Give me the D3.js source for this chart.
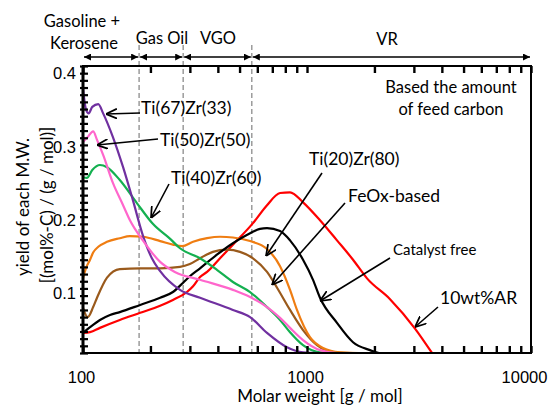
<!DOCTYPE html>
<meta charset="utf-8">
<style>
  body { margin: 0; background: #fff; }
  svg { font-family: Lato, "Open Sans", sans-serif; }
</style>
<body>
<svg id="chart"></svg>
<script src="https://cdn.jsdelivr.net/npm/d3@7"></script>
<script>

// [molar weight (g/mol), yield]
var ar10 = [[100,0.028],[107.5,0.029],[119,0.035],[146,0.046],[180,0.056],[221,0.066],[252,0.074],[291,0.085],[310,0.093],[333,0.106],[358,0.113],[409,0.132],[467,0.151],[574,0.181],[663,0.206],[758,0.223],[840,0.224],[960,0.210],[1143,0.185],[1361,0.157],[1605,0.130],[1853,0.104],[2348,0.075],[3035,0.034],[3614,0]];
var catFree = [[100,0.028],[107.5,0.036],[119,0.046],[132,0.053],[146,0.057],[180,0.067],[221,0.077],[252,0.085],[280,0.098],[300,0.107],[333,0.118],[396,0.137],[467,0.153],[557,0.167],[617,0.173],[663,0.174],[758,0.170],[840,0.157],[960,0.130],[1064,0.102],[1143,0.077],[1361,0.042],[1605,0.015],[1911,0.004],[2100,0],[3000,0]];
var feox = [[100,0.063],[105,0.050],[111,0.064],[115.5,0.077],[128,0.105],[146,0.117],[180,0.118],[221,0.118],[271,0.120],[300,0.124],[333,0.132],[380,0.141],[439,0.144],[502,0.141],[574,0.132],[663,0.113],[735,0.091],[840,0.060],[960,0.032],[1108,0.011],[1330,0.001],[1600,0],[3614,0]];
var tiZr2080 = [[100,0.104],[103,0.118],[107.5,0.130],[111,0.140],[117,0.148],[128,0.155],[146,0.160],[162,0.163],[185,0.162],[221,0.156],[252,0.151],[277,0.149],[310,0.155],[358,0.160],[409,0.162],[467,0.161],[557,0.156],[663,0.145],[758,0.121],[840,0.088],[902,0.060],[1031,0.022],[1179,0.007],[1404,0.001],[1700,0],[3614,0]];
var tiZr4060 = [[100,0.245],[104,0.244],[110,0.255],[119,0.262],[128,0.259],[146,0.241],[174,0.209],[205,0.180],[245,0.159],[271,0.146],[333,0.132],[396,0.116],[467,0.099],[557,0.085],[663,0.064],[758,0.046],[840,0.029],[960,0.011],[1143,0.001],[1404,0]];
var tiZr5050 = [[100,0.294],[105,0.301],[111,0.309],[115.5,0.297],[123,0.276],[136,0.237],[151,0.206],[162,0.185],[185,0.157],[221,0.127],[257,0.113],[333,0.102],[467,0.088],[557,0.078],[663,0.064],[758,0.049],[840,0.035],[960,0.018],[1143,0.004],[1361,0],[2000,0]];
var tiZr6733 = [[100,0.369],[103,0.340],[106,0.334],[110,0.343],[117,0.347],[123,0.334],[136,0.301],[151,0.259],[167,0.213],[185,0.164],[203,0.132],[221,0.114],[271,0.088],[333,0.077],[467,0.060],[557,0.050],[663,0.028],[814,0.008],[960,0.001],[1143,0]];

var bounds = [100, 178, 280, 567, 10000];
var xTicks = [100,200,300,400,500,600,700,800,900,1000,2000,3000,4000,5000,6000,7000,8000,9000,10000];
var xLabels = [100, 1000, 10000];
var yTicks = d3.range(0, 41).map(function(i) { return i / 100; });
var yLabels = [0.1, 0.2, 0.3, 0.4];

var series = [
  {name: "10wt%AR", data: ar10, color: "#ff0000"},
  {name: "FeOx-based", data: feox, color: "#9a5a1c"},
  {name: "Ti(20)Zr(80)", data: tiZr2080, color: "#ef7d12"},
  {name: "Catalyst free", data: catFree, color: "#000000"},
  {name: "Ti(40)Zr(60)", data: tiZr4060, color: "#14b050"},
  {name: "Ti(67)Zr(33)", data: tiZr6733, color: "#7030a0"},
  {name: "Ti(50)Zr(50)", data: tiZr5050, color: "#ff66cc"}
];

var plot = {left: 83, right: 531, top: 66, bottom: 353};

var svg = d3.select("#chart")
    .attr("width", 551)
    .attr("height", 406);

var defs = svg.append("defs");
defs.append("marker")
    .attr("id", "open")
    .attr("viewBox", "0 0 10 10")
    .attr("refX", 10).attr("refY", 5)
    .attr("markerUnits", "userSpaceOnUse")
    .attr("markerWidth", 11).attr("markerHeight", 11)
    .attr("orient", "auto")
  .append("path")
    .attr("d", "M0,0.5 L10,5 L0,9.5")
    .attr("fill", "none")
    .attr("stroke", "#000")
    .attr("stroke-width", 1.6);
defs.append("marker")
    .attr("id", "solid")
    .attr("viewBox", "0 0 10 10")
    .attr("refX", 10).attr("refY", 5)
    .attr("markerUnits", "userSpaceOnUse")
    .attr("markerWidth", 7).attr("markerHeight", 7)
    .attr("orient", "auto-start-reverse")
  .append("path")
    .attr("d", "M0,0 L10,5 L0,10 Z")
    .attr("fill", "#000");

var x = d3.scaleLog().domain([100, 10000]).range([plot.left, plot.right]);
var y = d3.scaleLinear().domain([0, 0.4]).range([plot.bottom, plot.top]);
// tick labels sit a little below their ticks in the original
var yLab = d3.scaleLinear().domain([0.1, 0.4]).range([293, 73]);

// region boundaries
svg.selectAll(".bound")
    .data(bounds.slice(1, 4))
  .enter().append("line")
    .attr("class", "bound")
    .attr("x1", function(d) { return x(d); })
    .attr("x2", function(d) { return x(d); })
    .attr("y1", 45).attr("y2", plot.bottom)
    .attr("stroke", "#8c8c8c")
    .attr("stroke-width", 1.3)
    .attr("stroke-dasharray", "5,3");

// region arrows
svg.selectAll(".span")
    .data(d3.pairs(bounds))
  .enter().append("line")
    .attr("class", "span")
    .attr("x1", function(d) { return x(d[0]) + 1; })
    .attr("x2", function(d) { return x(d[1]) - 1; })
    .attr("y1", 57).attr("y2", 57)
    .attr("stroke", "#000")
    .attr("stroke-width", 1.3)
    .attr("marker-start", "url(#solid)")
    .attr("marker-end", "url(#solid)");

var heads = [
  {t: "Gasoline +", x: 82, y: 27},
  {t: "Kerosene", x: 84, y: 49},
  {t: "Gas Oil", x: 162, y: 44},
  {t: "VGO", x: 218, y: 44},
  {t: "VR", x: 387, y: 45}
];
svg.selectAll(".head")
    .data(heads)
  .enter().append("text")
    .attr("class", "head")
    .attr("x", function(d) { return d.x; })
    .attr("y", function(d) { return d.y; })
    .attr("text-anchor", "middle")
    .style("font-size", "16.5px")
    .text(function(d) { return d.t; });

// curves
var curve = d3.line()
    .x(function(d) { return x(d[0]); })
    .y(function(d) { return y(d[1]); })
    .curve(d3.curveMonotoneX);

svg.selectAll(".curve")
    .data(series)
  .enter().append("path")
    .attr("class", "curve")
    .attr("d", function(d) { return curve(d.data); })
    .attr("fill", "none")
    .attr("stroke", function(d) { return d.color; })
    .attr("stroke-width", 2.2)
    .attr("stroke-linejoin", "round");

// frame
svg.append("rect")
    .attr("x", plot.left).attr("y", plot.top)
    .attr("width", plot.right - plot.left).attr("height", plot.bottom - plot.top)
    .attr("fill", "none")
    .attr("stroke", "#000")
    .attr("stroke-width", 2);
svg.append("line")
    .attr("x1", plot.left).attr("x2", plot.left)
    .attr("y1", plot.top).attr("y2", plot.bottom)
    .attr("stroke", "#000").attr("stroke-width", 3);

// axes
var gx = svg.append("g")
    .attr("transform", "translate(0," + plot.bottom + ")")
    .call(d3.axisBottom(x).tickValues(xTicks).tickSize(-7)
      .tickFormat(function(d) { return xLabels.indexOf(d) >= 0 ? d : ""; }));
gx.select(".domain").remove();
gx.selectAll(".tick line").style("stroke", "#000").style("stroke-width", "2.4px");
gx.selectAll(".tick text")
    .attr("y", 30).attr("dy", null)
    .attr("dx", function(d) { return d === 10000 ? -7 : -2; })
    .style("font-size", "16.5px");

var gxTop = svg.append("g")
    .attr("transform", "translate(0," + plot.top + ")")
    .call(d3.axisTop(x).tickValues(xTicks).tickSize(-7).tickFormat(""));
gxTop.select(".domain").remove();
gxTop.selectAll(".tick line").style("stroke", "#000").style("stroke-width", "2.4px");

function isLabel(d) {
  return yLabels.some(function(v) { return Math.abs(v - d) < 1e-9; });
}
var gy = svg.append("g")
    .attr("transform", "translate(" + plot.left + ",0)")
    .call(d3.axisLeft(y).tickValues(yTicks).tickSize(3)
      .tickFormat(function(d) { return isLabel(d) ? d3.format(".1f")(d) : ""; }));
gy.select(".domain").remove();
gy.selectAll(".tick line")
    .attr("x2", 5).attr("x1", -3)
    .style("stroke", "#000").style("stroke-width", "2.2px");
gy.selectAll(".tick text")
    .attr("x", -7)
    .attr("dy", "0.35em")
    .attr("y", function(d) { return isLabel(d) ? yLab(d) - y(d) : 0; })
    .style("font-size", "16.5px");

// axis titles
svg.append("text")
    .attr("x", 320).attr("y", 402)
    .attr("text-anchor", "middle")
    .style("font-size", "17px")
    .text("Molar weight [g / mol]");
svg.append("text")
    .attr("transform", "translate(29,207) rotate(-90)")
    .attr("text-anchor", "middle")
    .style("font-size", "17px")
    .text("yield of each M.W.");
svg.append("text")
    .attr("transform", "translate(53,205) rotate(-90)")
    .attr("text-anchor", "middle")
    .style("font-size", "17px")
    .text("[(mol%-C) / (g / mol)]");

// note
svg.append("text")
    .attr("x", 451).attr("y", 93)
    .attr("text-anchor", "middle")
    .style("font-size", "16.5px")
    .text("Based the amount");
svg.append("text")
    .attr("x", 451).attr("y", 115)
    .attr("text-anchor", "middle")
    .style("font-size", "16.5px")
    .text("of feed carbon");

// labels with arrows
var notes = [
  {t: "Ti(67)Zr(33)", tx: 141, ty: 114, x1: 140, y1: 113, x2: 106, y2: 114, fs: 17.5},
  {t: "Ti(50)Zr(50)", tx: 160, ty: 146, x1: 158, y1: 139, x2: 97, y2: 145, fs: 17.5},
  {t: "Ti(40)Zr(60)", tx: 171, ty: 184, x1: 169, y1: 184, x2: 151, y2: 218, fs: 17.5},
  {t: "Ti(20)Zr(80)", tx: 309, ty: 165, x1: 322, y1: 173, x2: 266, y2: 256, fs: 17.5},
  {t: "FeOx-based", tx: 348, ty: 202, x1: 345, y1: 203, x2: 272, y2: 285, fs: 17.5},
  {t: "Catalyst free", tx: 393, ty: 255, x1: 390, y1: 258, x2: 320, y2: 301, fs: 15},
  {t: "10wt%AR", tx: 440, ty: 304, x1: 438, y1: 307, x2: 415, y2: 327, fs: 17.5}
];
svg.selectAll(".note-line")
    .data(notes)
  .enter().append("line")
    .attr("class", "note-line")
    .attr("x1", function(d) { return d.x1; })
    .attr("y1", function(d) { return d.y1; })
    .attr("x2", function(d) { return d.x2; })
    .attr("y2", function(d) { return d.y2; })
    .attr("stroke", "#000")
    .attr("stroke-width", 1.6)
    .attr("marker-end", "url(#open)");
svg.selectAll(".note")
    .data(notes)
  .enter().append("text")
    .attr("class", "note")
    .attr("x", function(d) { return d.tx; })
    .attr("y", function(d) { return d.ty; })
    .style("font-size", function(d) { return d.fs + "px"; })
    .text(function(d) { return d.t; });

</script>
